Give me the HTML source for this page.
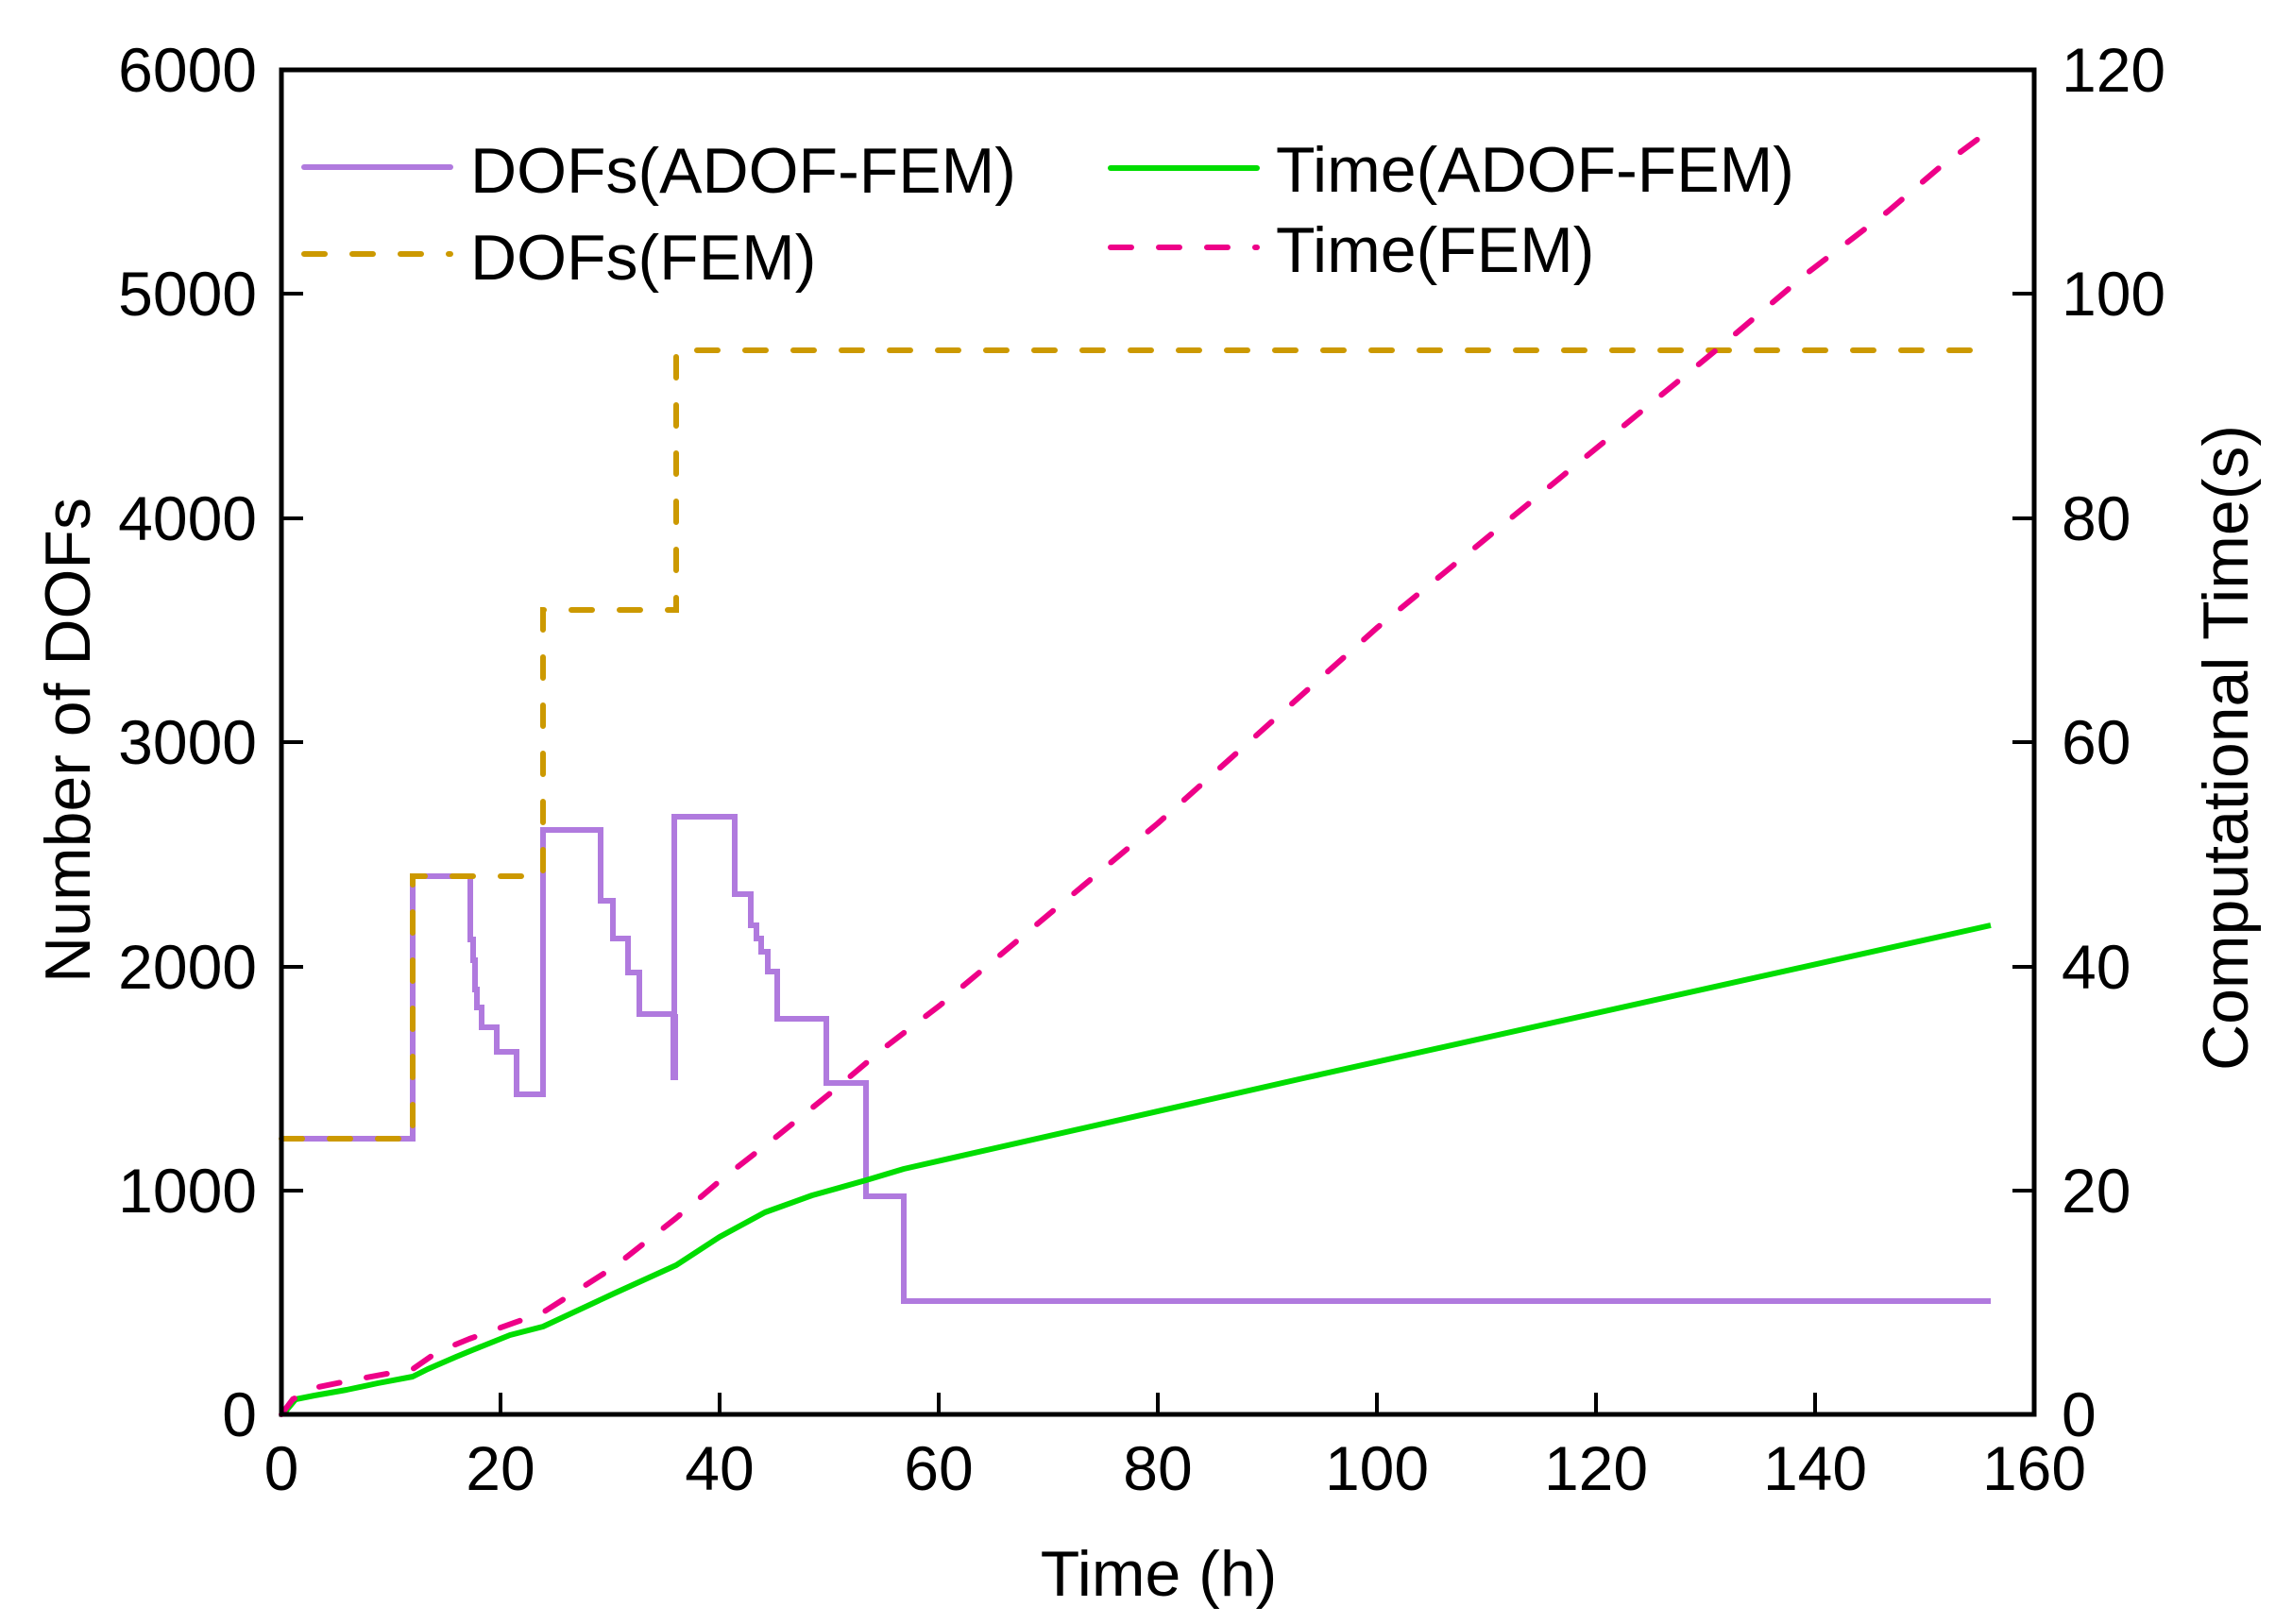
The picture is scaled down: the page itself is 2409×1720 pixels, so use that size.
<!DOCTYPE html>
<html><head><meta charset="utf-8"><style>html,body{margin:0;padding:0;background:#fff}svg{display:block}</style></head>
<body>
<svg width="2409" height="1720" viewBox="0 0 2409 1720" xmlns="http://www.w3.org/2000/svg" font-family="Liberation Sans, Arial, sans-serif">
<rect width="2409" height="1720" fill="#fff"/>
<polyline fill="none" stroke="#b07ade" stroke-width="6" stroke-linejoin="miter" points="298,1206 437,1206 437,928 498,928 498,995 501,995 501,1017 503,1017 503,1048 505,1048 505,1067 510,1067 510,1088 526,1088 526,1114 547,1114 547,1159 575,1159 575,879 636,879 636,954 649,954 649,994 665,994 665,1030 677,1030 677,1074 714,1074 714,1143 714,865 778,865 778,947 795,947 795,980 801,980 801,994 806,994 806,1008 813,1008 813,1029 823,1029 823,1079 875,1079 875,1147 917,1147 917,1267 957,1267 957,1378 2108,1378"/>
<rect x="710" y="1074" width="8" height="70" fill="#b07ade"/>
<polyline fill="none" stroke="#cc9900" stroke-width="6" stroke-linecap="round" stroke-dasharray="22 29" points="298,1206 437,1206 437,928 575,928 575,646 716,646 716,371 2108,371"/>
<polyline fill="none" stroke="#00dd00" stroke-width="6" stroke-linejoin="round" points="298,1498 303,1494 313,1482 333,1478 367,1472 400,1465 437,1458 453,1450 483,1437 500,1430 540,1414 575,1405 650,1370 716,1340 762,1310 810,1284 860,1266 917,1250 957,1238 1380,1142 2108,980"/>
<polyline fill="none" stroke="#ee0088" stroke-width="6" stroke-linecap="round" stroke-linejoin="round" stroke-dasharray="22 29" points="298,1498 310,1482 337,1469 382,1460 437,1450 463,1432 497,1418 575,1390 650,1342 716,1290 763,1250 822,1204 879,1158 936,1110 995,1065 1226,872 1458,665 1817,371 1914,289 1999,224 2053,178 2107,138"/>
<rect x="298" y="74" width="1856" height="1424" fill="none" stroke="#000" stroke-width="5"/>
<g stroke="#000" stroke-width="4">
<line x1="530" y1="1498" x2="530" y2="1475"/><line x1="762" y1="1498" x2="762" y2="1475"/><line x1="994" y1="1498" x2="994" y2="1475"/><line x1="1226" y1="1498" x2="1226" y2="1475"/><line x1="1458" y1="1498" x2="1458" y2="1475"/><line x1="1690" y1="1498" x2="1690" y2="1475"/><line x1="1922" y1="1498" x2="1922" y2="1475"/>
<line x1="298" y1="1261" x2="321" y2="1261"/><line x1="298" y1="1024" x2="321" y2="1024"/><line x1="298" y1="786" x2="321" y2="786"/><line x1="298" y1="549" x2="321" y2="549"/><line x1="298" y1="311" x2="321" y2="311"/>
<line x1="2131" y1="1261" x2="2154" y2="1261"/><line x1="2131" y1="1024" x2="2154" y2="1024"/><line x1="2131" y1="786" x2="2154" y2="786"/><line x1="2131" y1="549" x2="2154" y2="549"/><line x1="2131" y1="311" x2="2154" y2="311"/>
</g>
<g font-size="66" fill="#000" text-anchor="middle">
<text x="298" y="1578">0</text><text x="530" y="1578">20</text><text x="762" y="1578">40</text><text x="994" y="1578">60</text><text x="1226" y="1578">80</text><text x="1458" y="1578">100</text><text x="1690" y="1578">120</text><text x="1922" y="1578">140</text><text x="2154" y="1578">160</text>
</g>
<g font-size="66" fill="#000" text-anchor="end">
<text x="272" y="1521">0</text><text x="272" y="1284">1000</text><text x="272" y="1047">2000</text><text x="272" y="809">3000</text><text x="272" y="572">4000</text><text x="272" y="334">5000</text><text x="272" y="97">6000</text>
</g>
<g font-size="66" fill="#000" text-anchor="start">
<text x="2183" y="1521">0</text><text x="2183" y="1284">20</text><text x="2183" y="1047">40</text><text x="2183" y="809">60</text><text x="2183" y="572">80</text><text x="2183" y="334">100</text><text x="2183" y="97">120</text>
</g>
<text x="1227" y="1690" font-size="68" text-anchor="middle">Time (h)</text>
<text transform="translate(95,784) rotate(-90)" font-size="68" text-anchor="middle">Number of DOFs</text>
<text transform="translate(2380,792) rotate(-90)" font-size="68" text-anchor="middle">Computational Time(s)</text>
<line x1="322" y1="177" x2="477" y2="177" stroke="#b07ade" stroke-width="6" stroke-linecap="round"/>
<line x1="322" y1="269" x2="477" y2="269" stroke="#cc9900" stroke-width="6" stroke-linecap="round" stroke-dasharray="22 29"/>
<line x1="1176" y1="178" x2="1331" y2="178" stroke="#00dd00" stroke-width="6" stroke-linecap="round"/>
<line x1="1176" y1="262" x2="1331" y2="262" stroke="#ee0088" stroke-width="6" stroke-linecap="round" stroke-dasharray="22 29"/>
<g font-size="68" fill="#000">
<text x="498" y="204">DOFs(ADOF-FEM)</text>
<text x="498" y="296">DOFs(FEM)</text>
<text x="1351" y="203">Time(ADOF-FEM)</text>
<text x="1351" y="288">Time(FEM)</text>
</g>
</svg>
</body></html>
